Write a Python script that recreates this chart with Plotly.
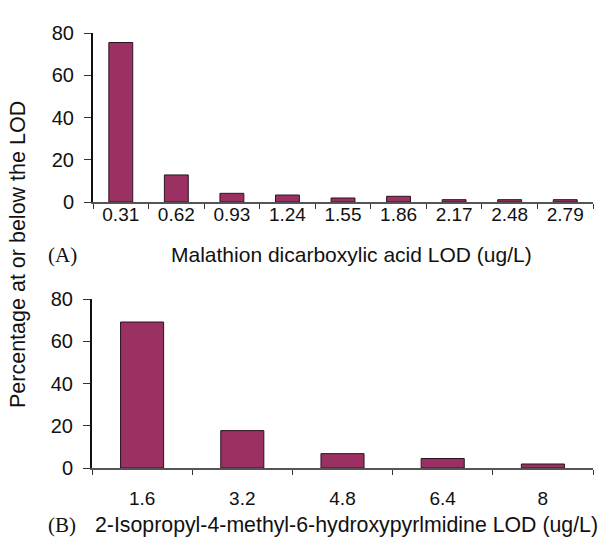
import plotly.graph_objects as go

cats_a = ["0.31", "0.62", "0.93", "1.24", "1.55", "1.86", "2.17", "2.48", "2.79"]
vals_a = [75.5, 12.8, 4.1, 3.3, 1.9, 2.7, 1.1, 1.1, 1.1]
cats_b = ["1.6", "3.2", "4.8", "6.4", "8"]
vals_b = [69.1, 17.7, 6.8, 4.5, 1.9]
yticks = [0, 20, 40, 60, 80]

W, H = 603, 539
bar_color = "#9b3062"
line_color = "#2a1420"
font = "Liberation Sans, Arial, sans-serif"
serif = "Liberation Serif, Times New Roman, serif"

fig = go.Figure()
fig.add_trace(go.Bar(x=cats_a, y=vals_a, xaxis="x", yaxis="y",
                     marker=dict(color=bar_color, line=dict(color=line_color, width=1))))
fig.add_trace(go.Bar(x=cats_b, y=vals_b, xaxis="x2", yaxis="y2",
                     marker=dict(color=bar_color, line=dict(color=line_color, width=1))))

def ydom(top, bot):
    return [1 - bot / H, 1 - top / H]

xa = dict(type="category", showline=True, linecolor="#555", linewidth=1.5,
          ticks="outside", tickson="boundaries", ticklen=5, tickcolor="#333",
          tickfont=dict(size=19, color="#111", family=font), showgrid=False,
          zeroline=False, automargin=False)
ya = dict(range=[0, 80], tickvals=yticks, showline=True, linecolor="#111", linewidth=2,
          ticks="outside", ticklen=7, tickcolor="#333", ticklabelstandoff=6,
          tickfont=dict(size=20, color="#111", family=font), showgrid=False,
          zeroline=False, automargin=False)

def ann(text, x, y, size, family, angle=0):
    return dict(text=text, x=x / W, y=1 - y / H, xref="paper", yref="paper",
                xanchor="center", yanchor="middle", showarrow=False, textangle=angle,
                font=dict(size=size, color="#111", family=family))

fig.update_layout(
    width=W, height=H, margin=dict(l=0, r=0, t=0, b=0, autoexpand=False),
    paper_bgcolor="white", plot_bgcolor="white", showlegend=False,
    bargap=0.57,
    xaxis=dict(xa, domain=[93 / W, 593 / W], anchor="y", ticklabelstandoff=-6),
    yaxis=dict(ya, domain=ydom(33, 202), anchor="x"),
    xaxis2=dict(xa, domain=[92 / W, 593 / W], anchor="y2", ticklabelstandoff=12),
    yaxis2=dict(ya, domain=ydom(299, 468), anchor="x2"),
    annotations=[
        ann("Malathion dicarboxylic acid LOD (ug/L)", 351, 255, 21, font),
        ann("2-Isopropyl-4-methyl-6-hydroxypyrlmidine LOD (ug/L)", 346, 525, 21.3, font),
        ann("(A)", 62, 255, 21, serif),
        ann("(B)", 62, 525, 21, serif),
        ann("Percentage at or below the LOD", 18, 255, 21.5, font, -90),
    ],
)

fig.write_html("out.html")
